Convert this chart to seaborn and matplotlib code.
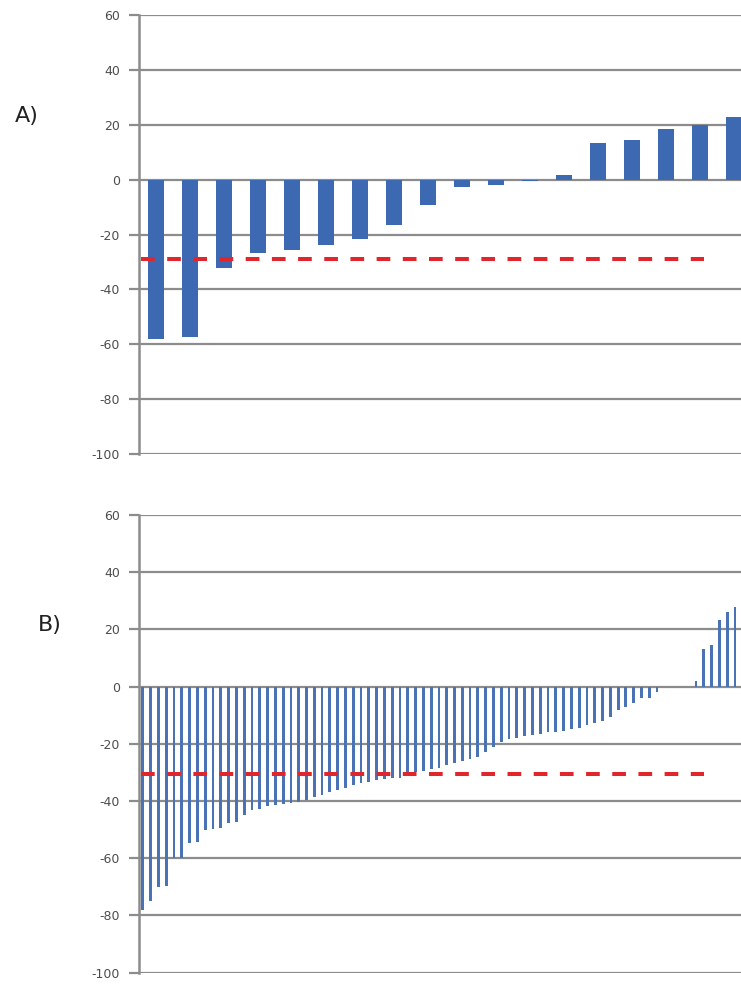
import matplotlib
matplotlib.use("Agg")
import matplotlib.pyplot as plt
import seaborn as sns
import pandas as pd

# ---------------- data ----------------
panel_a_values = [-58, -57.2, -32.1, -26.7, -25.7, -24, -21.6, -16.4, -9.2, -2.7,
                  -2.1, -0.6, 1.6, 13.3, 14.4, 18.4, 20, 23]
panel_a_threshold = -29

panel_b_values = [-78, -75, -70, -69.7, -60, -60, -54.8, -54.3, -50.2, -49.6,
                  -49.4, -47.8, -47.3, -44.9, -43.2, -42.6, -41.7, -41.4, -41.2, -40.8,
                  -40.3, -39.7, -38.5, -37.9, -36.8, -36.2, -35.4, -34.4, -33.8, -33.3,
                  -32.7, -32.3, -32, -31.9, -30.3, -30, -29.5, -28.8, -28.4, -27.4,
                  -26.8, -26, -25.3, -24.5, -22.8, -21, -19.3, -18.3, -17.9, -17.2,
                  -16.9, -16.7, -16, -15.8, -15.5, -14.8, -14.4, -13.4, -12.8, -12,
                  -10.5, -8.2, -7, -5.8, -4.1, -3.9, -1.8,
                  0, 0, 0, 0,
                  2, 13, 14.5, 23.3, 26, 28]
panel_b_threshold = -30.7

panel_labels = ["A)", "B)"]
y_ticks = [60, 40, 20, 0, -20, -40, -60, -80, -100]

# ---------------- style ----------------
sns.set_style("white")
plt.rcParams["font.family"] = ["DejaVu Sans"]

W, H = 741, 985
fig = plt.figure(figsize=(W / 100, H / 100), dpi=100)

grid_col = "#8c8c8c"
bar_col_a = "#3D69B2"
bar_col_b = "#4A73B6"
red_col = "#E0262C"

ax_left = 139 / W
ax_width = 612 / W
ax_a = fig.add_axes([ax_left, 1 - 454 / H, ax_width, 439 / H])
ax_b = fig.add_axes([ax_left, 1 - 972.7 / H, ax_width, 457.7 / H])

df_a = pd.DataFrame({"pos": range(len(panel_a_values)), "val": panel_a_values})
df_b = pd.DataFrame({"pos": range(len(panel_b_values)), "val": panel_b_values})

sns.barplot(data=df_a, x="pos", y="val", color=bar_col_a, saturation=1,
            width=0.46, errorbar=None, ax=ax_a, zorder=2, linewidth=0)
sns.barplot(data=df_b, x="pos", y="val", color=bar_col_b, saturation=1,
            width=0.36, errorbar=None, ax=ax_b, zorder=2, linewidth=0)

for ax, thr, xlim in [(ax_a, panel_a_threshold, (-0.5, 17.5)),
                      (ax_b, panel_b_threshold, (-0.5, 78.06))]:
    ax.set_xlim(*xlim)
    ax.set_ylim(-100, 60)
    ax.set_yticks(y_ticks)
    ax.set_yticklabels([str(t) for t in y_ticks])
    ax.set_xticks([])
    ax.set_xlabel("")
    ax.set_ylabel("")
    ax.set_axisbelow(True)
    ax.yaxis.grid(True, color=grid_col, lw=1.6)
    ax.xaxis.grid(False)
    for s in ["top", "right", "bottom"]:
        ax.spines[s].set_visible(False)
    ax.spines["left"].set_color(grid_col)
    ax.spines["left"].set_linewidth(1.8)
    ax.tick_params(axis="y", left=True, length=7, width=1.6, color=grid_col,
                   pad=6.5, labelsize=9, labelcolor="#4d4d4d")
    ax.axhline(thr, xmin=0.004, xmax=0.923, color=red_col, lw=2.9,
               dashes=(3.4, 3.1), zorder=3)
    ax.patch.set_alpha(0)

fig.text(15 / W, 1 - 116 / H, panel_labels[0], fontsize=16, va="center",
         ha="left", color="#222222")
fig.text(38 / W, 1 - 625 / H, panel_labels[1], fontsize=16, va="center",
         ha="left", color="#222222")

fig.savefig("out.png", dpi=100, facecolor="white")
